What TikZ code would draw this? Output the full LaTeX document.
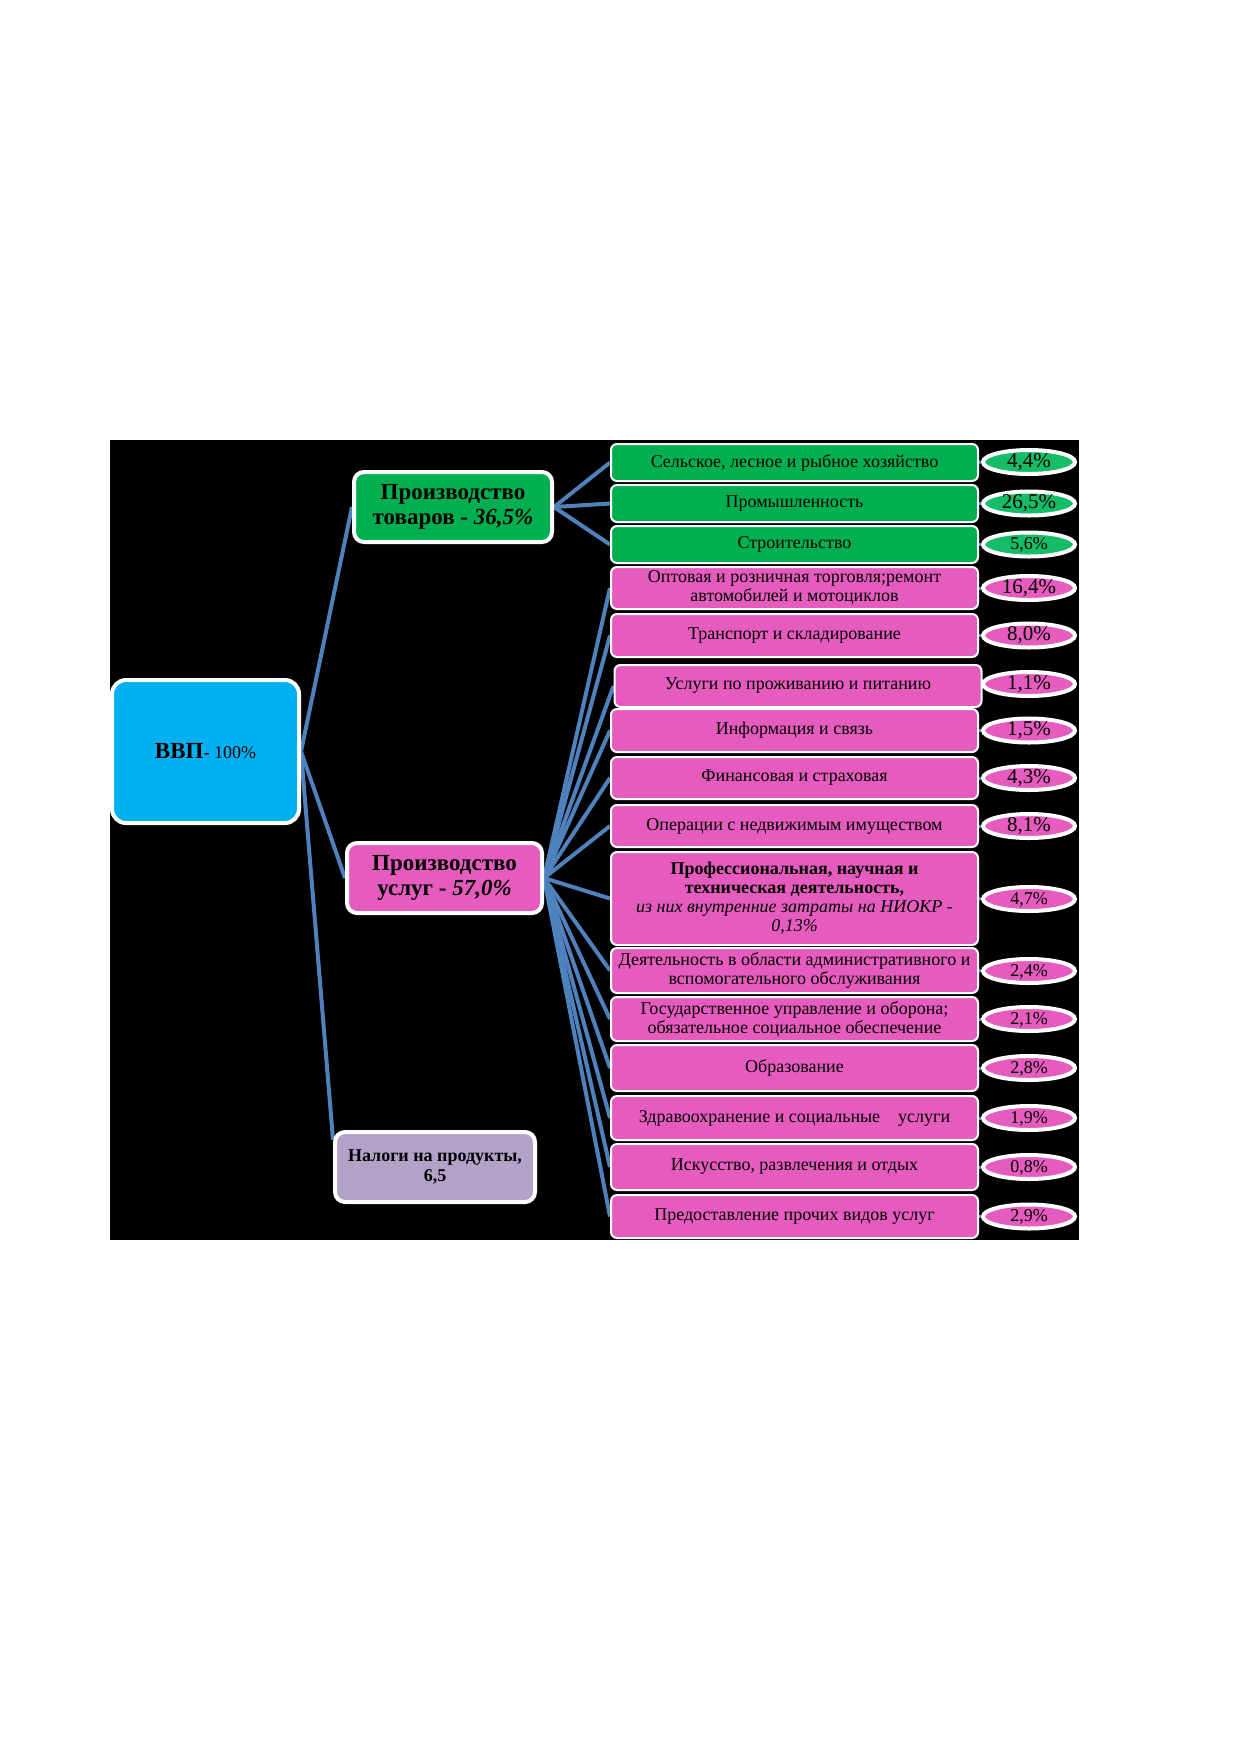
\documentclass[tikz,border=0pt]{standalone}
\usepackage{fontspec}
\setmainfont{Liberation Serif}
\usetikzlibrary{shapes.geometric}
\definecolor{bluec}{HTML}{00B0F0}
\definecolor{greenc}{HTML}{00B050}
\definecolor{greenl}{HTML}{17BC66}
\definecolor{pinkc}{HTML}{E65CBE}
\definecolor{lavc}{HTML}{B3A2C7}
\definecolor{linec}{HTML}{4F81BD}
\pgfdeclarelayer{back}
\pgfdeclarelayer{lines}
\pgfsetlayers{back,lines,main}
\begin{document}
\begin{tikzpicture}[x=0.5pt,y=-0.5pt,
  topbox/.style={draw=white,line width=2pt,rounded corners=5pt,align=center,inner sep=1pt,
    font=\bfseries\fontsize{11.5}{12.5}\selectfont},
  sector/.style={draw=white,line width=1pt,rounded corners=3pt,minimum width=183.5pt,
    align=center,inner sep=1pt,font=\fontsize{9}{9.5}\selectfont},
  pct/.style={ellipse,draw=white,line width=2pt,minimum width=46pt,minimum height=12pt,
    inner sep=0pt,text height=6pt,text depth=1pt},
  pbig/.style={pct,font=\fontsize{10.5}{11}\selectfont},
  psmall/.style={pct,font=\fontsize{9}{10}\selectfont},
  conn/.style={linec,line width=2pt},
  tick/.style={linec,line width=1.5pt}
]
\useasboundingbox (0,0) rectangle (1239,1752);
\begin{pgfonlayer}{back}
\fill[white] (0,0) rectangle (1239,1752);
\fill[black] (110,440) rectangle (1079,1240);
\end{pgfonlayer}

% level 0 and 1
\node[topbox,fill=bluec,minimum width=93.5pt,minimum height=71.5pt,rounded corners=7pt] (gdp) at (205.5,751.5)
  {ВВП{\mdseries\fontsize{9}{10}\selectfont- 100\%}};
\node[topbox,fill=greenc,minimum width=99pt,minimum height=35pt] (goods) at (453,507)
  {Производство\\товаров - \textit{36,5\%}};
\node[topbox,fill=pinkc,minimum width=97.5pt,minimum height=35pt] (serv) at (444.5,878)
  {Производство\\услуг - \textit{57,0\%}};
\node[topbox,fill=lavc,minimum width=100pt,minimum height=35pt,font=\bfseries\fontsize{9}{10}\selectfont] (tax) at (435,1167)
  {Налоги на продукты,\\6,5};

% sectors
\node[sector,fill=greenc,minimum height=18.5pt] (s1) at (794.5,462.5) {Сельское, лесное и рыбное хозяйство};
\node[sector,fill=greenc,minimum height=18.5pt] (s2) at (794.5,503.5) {Промышленность};
\node[sector,fill=greenc,minimum height=18.5pt] (s3) at (794.5,544.5) {Строительство};
\node[sector,fill=pinkc,minimum height=21pt] (s4) at (794.5,588) {Оптовая и розничная торговля;ремонт\\автомобилей и мотоциклов};
\node[sector,fill=pinkc,minimum height=21.5pt] (s5) at (794.5,635.5) {Транспорт и складирование};
\node[sector,fill=pinkc,minimum height=21pt] (s6) at (798,686) {Услуги по проживанию и питанию};
\node[sector,fill=pinkc,minimum height=21.5pt] (s7) at (794.5,730.5) {Информация и связь};
\node[sector,fill=pinkc,minimum height=21pt] (s8) at (794.5,778) {Финансовая и страховая};
\node[sector,fill=pinkc,minimum height=21pt] (s9) at (794.5,826) {Операции с недвижимым имуществом};
\node[sector,fill=pinkc,minimum height=46.5pt] (s10) at (794.5,898.5)
  {\textbf{Профессиональная, научная и}\\\textbf{техническая деятельность,}\\\textit{из них внутренние затраты на НИОКР -}\\\textit{0,13\%}};
\node[sector,fill=pinkc,minimum height=22.5pt] (s11) at (794.5,970.5) {Деятельность в области административного и\\вспомогательного обслуживания};
\node[sector,fill=pinkc,minimum height=22pt] (s12) at (794.5,1019) {Государственное управление и оборона;\\обязательное социальное обеспечение};
\node[sector,fill=pinkc,minimum height=23pt] (s13) at (794.5,1068) {Образование};
\node[sector,fill=pinkc,minimum height=22pt] (s14) at (794.5,1118) {Здравоохранение и социальные\quad услуги};
\node[sector,fill=pinkc,minimum height=23pt] (s15) at (794.5,1167) {Искусство, развлечения и отдых};
\node[sector,fill=pinkc,minimum height=21.5pt] (s16) at (794.5,1216.5) {Предоставление прочих видов услуг};

% percentages
\node[pbig,fill=greenl] (p1) at (1029,462) {4,4\%};
\node[pbig,fill=greenl] (p2) at (1029,503.5) {26,5\%};
\node[psmall,fill=greenl] (p3) at (1029,544.5) {5,6\%};
\node[pbig,fill=pinkc] (p4) at (1029,588) {16,4\%};
\node[pbig,fill=pinkc] (p5) at (1029,635.5) {8,0\%};
\node[pbig,fill=pinkc] (p6) at (1029,684) {1,1\%};
\node[pbig,fill=pinkc] (p7) at (1029,730.5) {1,5\%};
\node[pbig,fill=pinkc] (p8) at (1029,778) {4,3\%};
\node[pbig,fill=pinkc] (p9) at (1029,826) {8,1\%};
\node[psmall,fill=pinkc] (p10) at (1029,899) {4,7\%};
\node[psmall,fill=pinkc] (p11) at (1029,971) {2,4\%};
\node[psmall,fill=pinkc] (p12) at (1029,1019) {2,1\%};
\node[psmall,fill=pinkc] (p13) at (1029,1068) {2,8\%};
\node[psmall,fill=pinkc] (p14) at (1029,1118) {1,9\%};
\node[psmall,fill=pinkc] (p15) at (1029,1167) {0,8\%};
\node[psmall,fill=pinkc] (p16) at (1029,1216.5) {2,9\%};

\begin{pgfonlayer}{lines}
\draw[conn] (gdp.east) -- (goods.west);
\draw[conn] (gdp.east) -- (serv.west);
\draw[conn] (gdp.east) -- (tax.165);
\foreach \i in {1,2,3} {\draw[conn] (goods.east) -- (s\i.west);}
\foreach \i in {4,...,16} {\draw[conn] (serv.east) -- (s\i.west);}
\foreach \i in {1,...,16} {\draw[tick] (s\i.east) -- (p\i.west);}
\end{pgfonlayer}
\end{tikzpicture}
\end{document}
